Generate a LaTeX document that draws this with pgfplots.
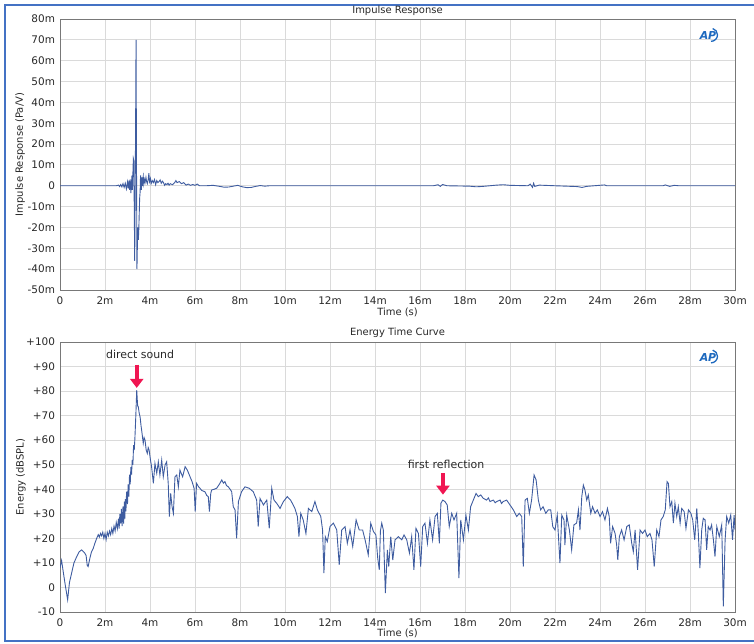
\documentclass[border=0pt]{standalone}
\usepackage{fontspec}
\setmainfont{DejaVu Sans}
\usepackage{pgfplots}
\pgfplotsset{compat=1.18}
\usepackage{pgfplotstable}
\usetikzlibrary{arrows.meta}
\definecolor{curve}{RGB}{62,92,160}
\definecolor{gridgray}{RGB}{218,218,218}
\definecolor{axisgray}{RGB}{120,120,120}
\definecolor{labelgray}{RGB}{40,40,40}
\definecolor{frameblue}{RGB}{68,114,196}
\definecolor{arrowred}{RGB}{240,22,82}
\definecolor{apblue}{RGB}{30,105,190}

\pgfplotstableread{
x y
0 0
2.5 0
2.6 0.3
2.65 -0.4
2.7 0.6
2.75 -0.5
2.8 1.0
2.85 -0.8
2.9 1.2
2.95 -1.5
3.0 1.8
3.03 -1.2
3.06 2.5
3.09 -2
3.12 3
3.15 -3.5
3.18 2
3.2 5
3.22 -2
3.24 6
3.26 13
3.28 12
3.30 -10
3.32 -36
3.34 -5
3.36 28
3.38 70
3.40 10
3.42 -40
3.44 -28
3.46 -20
3.48 -26
3.50 -22
3.52 -14
3.54 -6
3.56 -3
3.58 5
3.60 3
3.62 -2
3.64 4
3.66 0
3.68 3
3.70 4.5
3.72 1
3.75 3
3.78 1.5
3.82 4
3.85 2
3.88 1
3.92 3
3.95 6
3.98 2
4.02 3.5
4.05 1
4.1 2.5
4.15 1.5
4.2 3
4.25 0.5
4.3 2.5
4.35 1.5
4.4 2
4.45 2.8
4.5 1.2
4.55 2.2
4.6 1.5
4.65 0.2
4.7 1
4.75 0.5
4.8 1.2
4.85 0.3
4.9 1
5.0 0.5
5.1 1.5
5.15 2.5
5.2 1.5
5.3 2
5.4 1
5.5 1.5
5.6 0.3
5.7 0.8
5.8 0.2
5.9 0.6
6.0 0.2
6.1 0.8
6.2 0
6.5 0
6.8 0.2
7.1 -0.3
7.3 -0.7
7.5 -0.6
7.7 -0.2
7.9 0.2
8.1 -0.5
8.3 -0.9
8.5 -0.8
8.7 -0.3
8.9 0.1
9.1 -0.2
9.3 0
9.6 0
12 0
16.6 0
16.8 0.5
16.9 -0.3
17.0 0.6
17.2 0
18.2 -0.2
18.5 -0.5
18.8 -0.3
19.4 0.3
19.7 0.5
20.0 0.2
20.8 0
20.9 0.8
21.0 -0.8
21.05 1.2
21.1 -0.3
21.3 0.3
22.0 0
23.0 -0.4
23.2 -0.8
23.4 -0.3
24.2 0.4
24.3 0
26.8 0
26.9 0.4
27.1 -0.3
27.3 0.2
27.5 0
30 0
}\impulse

\pgfplotstableread{
x y
0 8
0.07 11
0.15 6
0.25 0
0.34 -5
0.42 2
0.52 6
0.62 10
0.74 12.5
0.85 14.5
0.96 15.3
1.1 14
1.16 13
1.21 9
1.25 8.5
1.33 12
1.40 14.5
1.48 16
1.55 18
1.63 20
1.7 21.5
1.75 20.5
1.8 22
1.85 21
1.9 22.5
1.95 20
2.0 22
2.05 19.5
2.1 22.5
2.15 21
2.2 23
2.25 21.5
2.3 24
2.35 22
2.4 25
2.45 23
2.5 26.5
2.55 24
2.6 28
2.63 24
2.66 30
2.7 26
2.73 32
2.76 25
2.8 33
2.83 26
2.86 35
2.88 28
2.9 36
2.93 31
2.96 39
3.0 34
3.03 42
3.06 37
3.09 46
3.12 42
3.15 49
3.18 46
3.21 52
3.24 50
3.27 58
3.30 56
3.33 61
3.37 70
3.41 80.4
3.45 74
3.48 73.6
3.52 71
3.56 69.5
3.60 66
3.63 64
3.67 61
3.70 58.7
3.74 61
3.78 60
3.83 56
3.88 54.6
3.92 57
3.96 56
4.02 52
4.07 49.2
4.15 42.4
4.22 50.5
4.30 46.5
4.37 51.2
4.44 45.8
4.52 51.9
4.59 45.1
4.67 49.9
4.74 51.2
4.81 42.4
4.86 28.9
4.92 38.3
4.98 32.9
5.04 30.2
5.11 45.1
5.19 45.8
5.26 41
5.33 47.8
5.45 45.1
5.56 49.2
5.66 47.8
5.78 45.1
5.87 43.1
5.96 40.4
6.01 30.9
6.07 42.4
6.16 41
6.22 40.4
6.30 39.5
6.44 39
6.52 37.5
6.59 37
6.64 30.9
6.70 38.3
6.74 39.7
6.85 40
6.96 40.4
7.08 42
7.19 43.8
7.26 42.5
7.33 43.1
7.40 41.5
7.48 41
7.56 40
7.63 39
7.70 32.9
7.78 31.6
7.85 20
7.93 35
8.07 39
8.22 41
8.41 40.4
8.59 39
8.74 35.6
8.81 24.8
8.89 36.3
9.04 33.6
9.19 35.6
9.30 24.1
9.41 40.4
9.51 35.6
9.63 34.3
9.78 32.2
9.93 35
10.10 37
10.25 35.6
10.44 32.2
10.55 28.9
10.62 20.7
10.70 30.2
10.81 27.5
10.93 22
11.04 32.2
11.19 30.9
11.33 35
11.44 31.6
11.59 28.9
11.67 23.4
11.73 5.8
11.79 20.7
11.88 18.7
12.0 24.8
12.15 26.2
12.30 23.4
12.41 9.2
12.52 23.4
12.67 24.8
12.77 18
12.89 23.4
13.01 16.7
13.16 27.5
13.30 23.4
13.45 23.4
13.56 19.4
13.70 13.3
13.81 26.2
13.93 22.8
14.04 21.4
14.12 12
14.19 7.2
14.24 23
14.30 26.2
14.37 23.4
14.46 -2.3
14.55 15.3
14.61 8.5
14.70 20.7
14.79 11.2
14.89 19.4
15.04 20.7
15.19 19.4
15.29 21.4
15.41 19.4
15.53 14
15.63 20.7
15.73 7.2
15.82 24.1
15.93 22
16.03 8.5
16.12 24.8
16.22 26.2
16.33 18
16.44 27.5
16.56 19.4
16.67 28.9
16.77 30.2
16.86 18
16.93 34.3
17.01 35.6
17.11 35
17.21 33.6
17.30 24.8
17.41 30.2
17.51 27.5
17.63 30.2
17.73 3.8
17.81 27.5
17.93 19.4
18.04 29.5
18.15 23.4
18.25 32.9
18.37 35.6
18.49 38.3
18.59 37
18.70 37.7
18.81 36.3
18.96 35.6
19.04 36.5
19.11 35
19.26 35.6
19.34 34.5
19.41 35
19.56 35.6
19.62 34.2
19.70 35
19.85 35.6
20.0 33.6
20.15 31.6
20.30 28.9
20.41 30.2
20.52 28.9
20.59 8.5
20.67 35.6
20.77 36.3
20.86 30.2
20.96 35.6
21.07 45.8
21.16 43.8
21.26 35.6
21.36 31.6
21.47 32.9
21.59 30.2
21.70 31.6
21.81 31.6
21.90 24.8
22.0 23.4
22.10 29.5
22.22 9.9
22.30 29.5
22.40 27.5
22.44 17.3
22.52 29.5
22.64 23.4
22.74 15.3
22.84 25.5
22.96 26.2
23.04 31.6
23.11 23.4
23.19 37
23.26 41.7
23.33 39.7
23.41 35.6
23.48 37.7
23.59 30.2
23.67 32.9
23.78 30.2
23.88 31.6
24.0 28.9
24.11 30.9
24.22 27.5
24.33 32.2
24.41 28.9
24.47 18
24.56 24.8
24.67 22
24.74 17.3
24.79 11.2
24.86 20.7
24.96 23.4
25.07 19.4
25.19 24.8
25.30 25.5
25.41 18
25.48 14.6
25.56 23.4
25.67 7.2
25.78 23.4
25.89 22
26.0 23.4
26.10 20.7
26.22 22
26.31 19.4
26.41 8.5
26.52 23.4
26.62 20.7
26.71 27.5
26.81 28.9
26.90 31.6
26.98 43.1
27.04 42.4
27.11 32.9
27.19 35
27.26 26.2
27.33 34.3
27.41 28.9
27.48 32.9
27.56 26.2
27.63 32.2
27.74 30.9
27.82 24.1
27.93 31.6
28.04 30.2
28.12 27.5
28.21 19.4
28.30 32.2
28.37 22
28.44 7.9
28.52 23.4
28.59 28.2
28.67 27.5
28.74 15.3
28.81 24.8
28.89 23.4
28.96 25.5
29.04 19.4
29.11 12.6
29.19 24.8
29.30 20.7
29.41 25.5
29.48 -7.7
29.56 19.4
29.63 28.9
29.72 26.2
29.81 29.5
29.89 19.4
29.96 29.5
30 23.4
}\etc

\pgfplotsset{
  common/.style={
    scale only axis, width=675bp, anchor=south west,
    xmin=0, xmax=30,
    xtick={0,2,...,30},
    xticklabels={0,2m,4m,6m,8m,10m,12m,14m,16m,18m,20m,22m,24m,26m,28m,30m},
    grid=major,
    major grid style={gridgray, line width=0.9bp},
    axis line style={axisgray, line width=0.9bp},
    major tick length=0pt,
    tick label style={font=\fontsize{10.5}{12}\selectfont, text=labelgray},
    xticklabel style={yshift=-3bp},
    yticklabel style={xshift=-1.5bp},
    label style={font=\fontsize{10}{12}\selectfont, text=labelgray},
    xlabel={Time (s)},
    xlabel style={at={(axis description cs:0.5,-0.081)}, anchor=center},
    clip=true,
  }
}

\begin{document}
\begin{tikzpicture}[x=1bp,y=1bp]
\useasboundingbox (0,0) rectangle (754,644);
\draw[frameblue, line width=2.5bp] (754,639) -- (5,639) -- (5,3) -- (754,3);

\node[font=\fontsize{10}{12}\selectfont, text=labelgray] at (397.5,633) {Impulse Response};
\node[font=\fontsize{10}{12}\selectfont, text=labelgray] at (397.5,311) {Energy Time Curve};

\begin{axis}[common, at={(60bp,354bp)}, height=271bp,
  ymin=-50, ymax=80,
  ytick={-50,-40,...,80},
  yticklabels={-50m,-40m,-30m,-20m,-10m,0,10m,20m,30m,40m,50m,60m,70m,80m},
  ylabel={Impulse Response (Pa/V)},
  ylabel style={at={(axis description cs:-0.059,0.5)}, anchor=center},
]
\addplot[curve, line width=0.9bp] table[x=x,y=y] {\impulse};
\node[font=\bfseries\itshape\fontsize{11}{12}\selectfont, text=apblue, inner sep=0] (ap1) at (axis cs:28.8,72) {AP};
\draw[apblue, line width=1.3bp] ([xshift=3bp,yshift=-1.5bp]ap1.south) arc[start angle=-90, end angle=75, radius=6.5bp];
\end{axis}

\begin{axis}[common, at={(60bp,32bp)}, height=270bp,
  ymin=-10, ymax=100,
  ytick={-10,0,...,100},
  yticklabels={-10,0,+10,+20,+30,+40,+50,+60,+70,+80,+90,+100},
  ylabel={Energy (dBSPL)},
  ylabel style={at={(axis description cs:-0.058,0.5)}, anchor=center},
]
\addplot[curve, line width=0.9bp] table[x=x,y=y] {\etc};
\node[font=\bfseries\itshape\fontsize{11}{12}\selectfont, text=apblue, inner sep=0] (ap2) at (axis cs:28.8,93.8) {AP};
\draw[apblue, line width=1.3bp] ([xshift=3bp,yshift=-1.5bp]ap2.south) arc[start angle=-90, end angle=75, radius=6.5bp];
\node[font=\fontsize{11}{13}\selectfont, text=labelgray] at (axis cs:3.56,95) {direct sound};
\draw[arrowred, line width=3.8bp, -{Triangle[length=9bp,width=13bp]}] (axis cs:3.41,90.8) -- (axis cs:3.41,81.3);
\node[font=\fontsize{11}{13}\selectfont, text=labelgray] at (axis cs:17.16,50.2) {first reflection};
\draw[arrowred, line width=3.8bp, -{Triangle[length=9bp,width=13bp]}] (axis cs:17.02,46.6) -- (axis cs:17.02,37.8);
\end{axis}
\end{tikzpicture}
\end{document}
